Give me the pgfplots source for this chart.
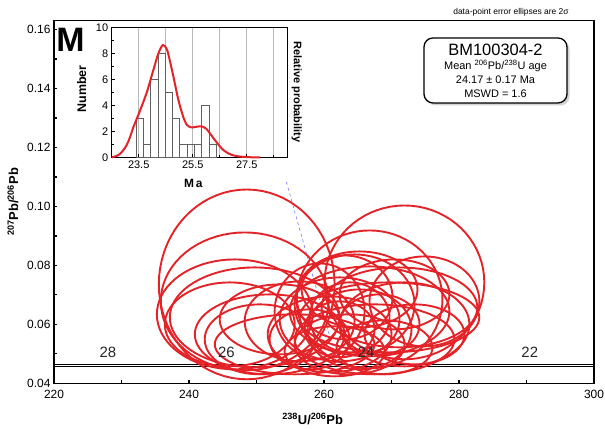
\documentclass[border=0pt]{standalone}
\usepackage{fontspec}
\setmainfont{Liberation Sans}
\usepackage{pgfplots}
\usepackage{pgfplotstable}
\pgfplotsset{compat=1.18}
\usetikzlibrary{shadows}
\definecolor{ellred}{RGB}{227,35,39}
\newcommand{\spr}[1]{\textsuperscript{#1}}

\pgfplotstableread{
cx cy rx ry
248.55 0.07355 13.02 0.03219
271.92 0.07423 11.83 0.02609
248.25 0.06779 12.43 0.02338
266.75 0.06847 10.80 0.02338
246.78 0.06338 11.54 0.01864
249.73 0.06237 12.57 0.01694
246.04 0.05999 9.62 0.01423
251.95 0.05660 11.09 0.01355
255.65 0.05322 11.83 0.01017
250.47 0.05491 8.14 0.01186
264.53 0.06677 8.88 0.01694
266.75 0.06440 11.83 0.01525
262.31 0.06169 8.88 0.01423
269.70 0.06237 13.31 0.01186
271.18 0.06575 11.54 0.01355
265.27 0.05830 7.69 0.01355
260.83 0.05660 9.17 0.01288
271.92 0.05999 9.62 0.01423
263.79 0.05322 8.14 0.01017
267.49 0.05491 11.83 0.01186
259.35 0.06440 6.66 0.01627
263.05 0.06914 7.10 0.01423
273.40 0.05660 7.40 0.01017
268.96 0.05220 7.10 0.00915
261.57 0.05084 7.40 0.00847
256.39 0.06101 8.14 0.01355
274.88 0.06779 8.14 0.01525
265.27 0.07185 8.58 0.01288
268.23 0.05999 5.92 0.01017
257.87 0.05491 5.92 0.01017
270.44 0.07016 8.14 0.01186
262.31 0.05830 5.18 0.00949
253.43 0.06169 8.88 0.01186
263.79 0.06237 5.92 0.01186
}\ellipses

\begin{document}
\begin{tikzpicture}
\useasboundingbox (-54bp,-45.7bp) rectangle (551bp,383.3bp);
\begin{axis}[
  at={(0,0)}, anchor=south west,
  scale only axis, width=540bp, height=362.6bp,
  xmin=220, xmax=300, ymin=0.04, ymax=0.163,
  xtick={220,240,260,280,300}, minor xtick={230,250,270,290},
  ytick={0.04,0.06,0.08,0.10,0.12,0.14,0.16},
  minor ytick={0.05,0.07,0.09,0.11,0.13,0.15},
  xtick pos=bottom, ytick pos=left,
  tick align=inside, major tick length=3bp, minor tick length=3bp,
  tick style={black, line width=1.2bp},
  axis line style={line width=1.3bp},
  /pgf/number format/assume math mode=true,
  yticklabel style={/pgf/number format/fixed, /pgf/number format/fixed zerofill, /pgf/number format/precision=2},
  xticklabel style={/pgf/number format/fixed, yshift=-3bp},
  ticklabel style={font=\fontsize{12}{14}\selectfont},
  scaled y ticks=false,
  every axis x label/.style={at={(axis description cs:0.479,-0.0985)}, anchor=center},
  every axis y label/.style={at={(axis description cs:-0.0759,0.5)}, rotate=90, anchor=center},
  xlabel={\bfseries\fontsize{13}{15}\selectfont \spr{238}U/\spr{206}Pb},
  ylabel={\bfseries\fontsize{13}{15}\selectfont \spr{207}Pb/\spr{206}Pb},
  clip=false,
]
% concordia
\addplot[black, line width=1.6bp] coordinates {(220,0.04644) (300,0.04644)};
\addplot[black, line width=0.7bp] coordinates {(220,0.04566) (300,0.04566)};
% regression line
\addplot[blue!55, dashed, line width=0.6bp] coordinates {(254.42,0.10834) (262.0,0.0466)};
% ellipses
\pgfplotsforeachungrouped \i in {0,...,33}{%
  \pgfplotstablegetelem{\i}{cx}\of\ellipses \let\ecx\pgfplotsretval
  \pgfplotstablegetelem{\i}{cy}\of\ellipses \let\ecy\pgfplotsretval
  \pgfplotstablegetelem{\i}{rx}\of\ellipses \let\erx\pgfplotsretval
  \pgfplotstablegetelem{\i}{ry}\of\ellipses \let\ery\pgfplotsretval
  \edef\doplot{\noexpand\addplot[ellred, line width=1.9bp, domain=0:360, samples=73] ({\ecx+\erx*cos(x)}, {\ecy+\ery*sin(x)});}%
  \doplot
}
% age labels
\node[font=\fontsize{15}{17}\selectfont, text=black!85] at (axis cs:227.99,0.05037) {28};
\node[font=\fontsize{15}{17}\selectfont, text=black!85] at (axis cs:245.55,0.05037) {26};
\node[font=\fontsize{15}{17}\selectfont, text=black!85] at (axis cs:266.25,0.05037) {24};
\node[font=\fontsize{15}{17}\selectfont, text=black!85] at (axis cs:290.49,0.05037) {22};
% annotations
\node[font=\bfseries\fontsize{34}{34}\selectfont] at (rel axis cs:0.0306,0.9468) {M};
\node[font=\fontsize{8.5}{10}\selectfont] at (rel axis cs:0.8463,1.024) {data-point error ellipses are 2σ};
\node[draw, line width=1.3bp, rounded corners=9bp, fill=white,
      drop shadow={shadow xshift=2.5bp, shadow yshift=-2.5bp, opacity=0.35},
      minimum width=143bp, minimum height=65bp, align=center, inner sep=2bp,
      font=\fontsize{11}{14}\selectfont]
  at (rel axis cs:0.8176,0.8627)
  {{\fontsize{16.5}{17}\selectfont BM100304-2}\\
   Mean \spr{206}Pb/\spr{238}U age\\
   24.17 ± 0.17 Ma\\
   MSWD = 1.6};
\end{axis}
% inset histogram
\begin{axis}[
  at={(57.7bp,226bp)}, anchor=south west,
  scale only axis, width=175.6bp, height=130bp,
  xmin=22.5, xmax=29, ymin=0, ymax=10,
  xtick={23.5,25.5,27.5}, minor xtick={24.5,26.5,28.5},
  xmajorgrids, xminorgrids,
  major grid style={gray!55, line width=1bp},
  minor grid style={gray!55, line width=1bp},
  ytick={0,2,4,6,8,10}, minor ytick={1,3,5,7,9},
  xtick pos=bottom, ytick pos=left,
  tick align=inside, major tick length=3bp, minor tick length=2bp,
  tick style={black, line width=1bp},
  axis line style={line width=1.2bp},
  axis background/.style={fill=white},
  /pgf/number format/assume math mode=true,
  xticklabel style={/pgf/number format/fixed, /pgf/number format/fixed zerofill, /pgf/number format/precision=1},
  ticklabel style={font=\fontsize{11}{13}\selectfont},
  every axis x label/.style={at={(axis description cs:0.465,-0.2)}, anchor=center},
  every axis y label/.style={at={(axis description cs:-0.171,0.525)}, rotate=90, anchor=center},
  xlabel={\bfseries\fontsize{12}{14}\selectfont M\,a},
  ylabel={\bfseries\fontsize{12.5}{14}\selectfont Number},
  clip=false,
]
\addplot[ybar interval, draw=gray!75!black, fill=none, line width=0.7bp] coordinates {
(23.40,3) (23.67,1) (23.94,6) (24.21,8) (24.48,5) (24.75,3) (25.02,1) (25.29,1) (25.56,1) (25.83,4) (26.10,1) (26.37,1)};
\addplot[ellred, line width=2bp, smooth, tension=0.5] coordinates {
(22.5,0.0) (22.7,0.12) (22.85,0.35) (23.03,0.85) (23.17,1.5) (23.30,2.3) (23.55,3.6) (23.80,5.0)
(24.04,6.7) (24.23,8.0) (24.39,8.63) (24.52,8.4) (24.60,7.9) (24.78,6.25) (24.97,4.4) (25.15,3.1)
(25.28,2.5) (25.45,2.3) (25.65,2.35) (25.83,2.38) (26.0,2.2) (26.15,1.8) (26.33,1.3) (26.5,0.85)
(26.64,0.55) (26.82,0.3) (27.0,0.15) (27.2,0.07) (27.4,0.03) (27.7,0.0) (28.0,0.0)};
\node[rotate=-90, font=\bfseries\fontsize{11}{12}\selectfont] at (rel axis cs:1.0535,0.502) {Relative probability};
\end{axis}
\end{tikzpicture}
\end{document}
